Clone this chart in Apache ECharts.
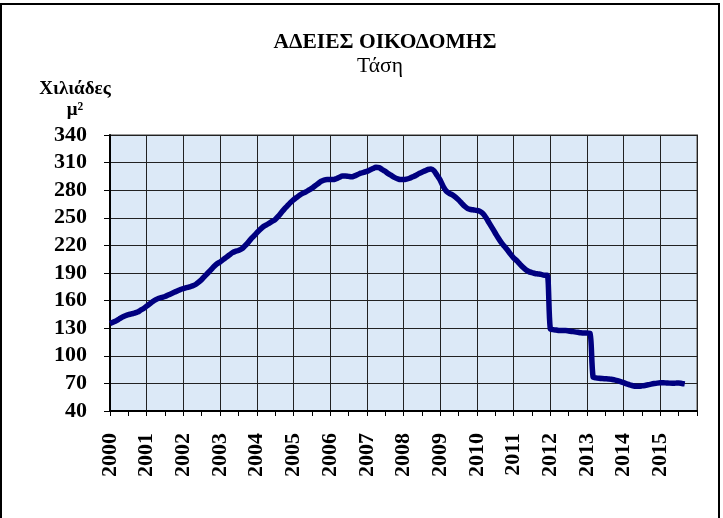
<!DOCTYPE html>
<html>
<head>
<meta charset="utf-8">
<script src="https://cdn.jsdelivr.net/npm/echarts@6/dist/echarts.min.js"></script>
<style>
  html, body { margin: 0; padding: 0; background: #fff; }
  #chart { width: 723px; height: 518px; }
</style>
</head>
<body>
<div id="chart"></div>
<script>
// monthly trend, thousands of m2
const v2000 = [135, 136.5, 138, 140, 142, 143.5, 144.7, 145.5, 146.5, 147.5, 149.5, 151.5];
const v2001 = [154, 156.5, 159, 161, 162.5, 163.5, 164.5, 166, 167.5, 169, 170.5, 172];
const v2002 = [173, 174, 175, 176, 177.5, 180, 183, 186.5, 190, 193.5, 197, 200];
const v2003 = [202, 204.5, 207, 209.5, 212, 213.5, 214.5, 216, 219, 222.5, 226.5, 230];
const v2004 = [233.5, 237, 240, 242, 244, 246, 248, 251.5, 255.5, 259.5, 263, 266.5];
const v2005 = [269.5, 272, 274.5, 276.5, 278, 280, 282, 284.5, 287, 289.5, 291, 291.5];
const v2006 = [291.5, 291.5, 292.5, 294, 295.5, 295.5, 295, 294.5, 295.5, 297, 298.5, 299.5];
const v2007 = [300.5, 302, 303.5, 305, 304.5, 302.5, 300.5, 298, 296, 294, 292.5, 291.5];
const v2008 = [291.5, 292, 293, 294.5, 296, 298, 299.5, 301, 302.5, 303, 301, 296];
const v2009 = [291, 284, 279, 276.5, 275, 272.5, 269.5, 266, 262.5, 260, 259, 258.5];
const v2010 = [258, 257, 254.5, 250, 244.5, 239, 233.5, 228, 223, 219, 215, 210.5];
const v2011 = [206.5, 203.5, 200, 196.5, 193.5, 191.5, 190.5, 189.5, 189, 188.5, 187.5, 187.5];
const v2012 = [129.5, 128.5, 128, 127.5, 127.5, 127.5, 127, 126.5, 126, 125.5, 125, 124.8];
const v2013 = [124.8, 124.5, 77, 76, 75.5, 75.2, 75, 74.8, 74.5, 73.8, 73, 72];
const v2014 = [70.8, 69.5, 68.5, 67.5, 67, 67, 67.3, 67.8, 68.5, 69.2, 69.8, 70.3];
const v2015 = [70.6, 70.7, 70.5, 70.3, 70.2, 70.3, 70.4, 70, 69.5];

const years = ['2000', '2001', '2002', '2003', '2004', '2005', '2006', '2007',
               '2008', '2009', '2010', '2011', '2012', '2013', '2014', '2015', '2016'];
const yTicks = [40, 70, 100, 130, 160, 190, 220, 250, 280, 310, 340];

const values = [].concat(v2000, v2001, v2002, v2003, v2004, v2005, v2006, v2007,
                         v2008, v2009, v2010, v2011, v2012, v2013, v2014, v2015);

// one category per month, Jan 2000 .. Jan 2016
const months = [];
years.forEach(function (y, i) {
    const n = i === years.length - 1 ? 1 : 12;
    for (let m = 1; m <= n; m++) months.push(y + '-' + (m < 10 ? '0' + m : m));
});

const serif = '"Liberation Serif", "DejaVu Serif", serif';
const chart = echarts.init(document.getElementById('chart'));

chart.setOption({
    animation: false,
    backgroundColor: '#fff',
    title: [
        { text: 'ΑΔΕΙΕΣ ΟΙΚΟΔΟΜΗΣ', left: 380, top: 26, textAlign: 'center',
          textStyle: { fontFamily: serif, fontWeight: 'bold', fontSize: 21.5, color: '#000' } },
        { text: 'Τάση', left: 375, top: 50, textAlign: 'center',
          textStyle: { fontFamily: serif, fontWeight: 'normal', fontSize: 21.5, color: '#000' } },
        { text: 'Χιλιάδες\nμ²', left: 70, top: 74, textAlign: 'center',
          textStyle: { fontFamily: serif, fontWeight: 'bold', fontSize: 19, lineHeight: 21, color: '#000' } }
    ],
    graphic: [{
        type: 'rect', silent: true,
        shape: { x: 1, y: 4, width: 718, height: 540 },
        style: { fill: 'none', stroke: '#000', lineWidth: 2 }
    }],
    grid: {
        left: 110, right: 26, top: 135, bottom: 107,
        show: true, backgroundColor: '#dce9f7', borderColor: '#9a9a9a', borderWidth: 2
    },
    xAxis: {
        type: 'category',
        data: months,
        boundaryGap: false,
        axisLine: { lineStyle: { color: '#000', width: 2 } },
        axisTick: { interval: function (i) { return i % 6 === 0; }, length: 5,
                    lineStyle: { color: '#000' } },
        splitLine: { show: true, interval: function (i) { return i % 12 === 0; },
                     lineStyle: { color: '#222', width: 1 } },
        axisLabel: {
            interval: function (i) { return i % 12 === 0 && i < months.length - 1; },
            formatter: function (v) { return v.slice(0, 4); },
            rotate: 90, margin: 22,
            fontFamily: serif, fontWeight: 'bold', fontSize: 22, color: '#000'
        }
    },
    yAxis: {
        type: 'value',
        min: yTicks[0], max: yTicks[yTicks.length - 1], interval: 30,
        axisLine: { show: true, lineStyle: { color: '#000', width: 2 } },
        axisTick: { show: true, length: 6, lineStyle: { color: '#000' } },
        splitLine: { lineStyle: { color: '#222', width: 1 } },
        axisLabel: { margin: 23, fontFamily: serif, fontWeight: 'bold', fontSize: 22, color: '#000' }
    },
    series: [{
        type: 'line',
        data: values,
        showSymbol: false,
        smooth: 0.3,
        lineStyle: { color: '#000080', width: 5.5 }
    }]
});
</script>
</body>
</html>
